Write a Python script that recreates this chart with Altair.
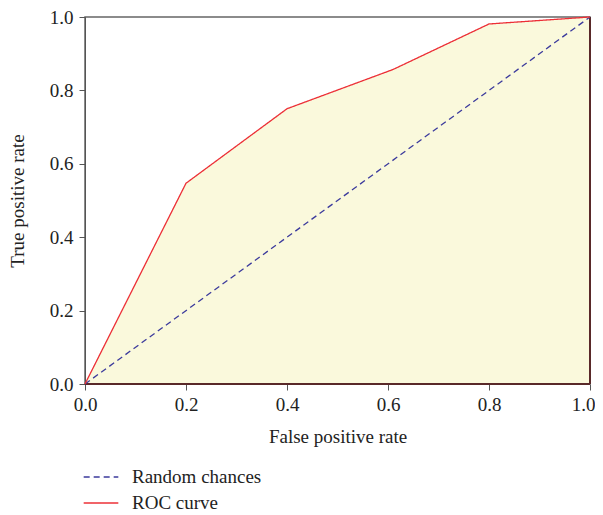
import altair as alt
import pandas as pd

roc_fpr = [0.0, 0.2, 0.4, 0.61, 0.8, 1.0]
roc_tpr = [0.0, 0.547, 0.75, 0.857, 0.981, 1.0]
rand_fpr = [0.0, 1.0]
rand_tpr = [0.0, 1.0]
series = ["Random chances", "ROC curve"]
colors = ["#3b3a9c", "#ec2f36"]

roc = pd.DataFrame({"fpr": roc_fpr, "tpr": roc_tpr, "series": series[1]})
rnd = pd.DataFrame({"fpr": rand_fpr, "tpr": rand_tpr, "series": series[0]})

FONT = "Liberation Serif"
FS = 19

xs = alt.Scale(domain=[0, 1], nice=False)
ys = alt.Scale(domain=[0, 1], nice=False)

xax = alt.Axis(title="False positive rate", values=[0, 0.2, 0.4, 0.6, 0.8, 1.0], format=".1f",
               grid=False, domain=False, tickColor="#555", tickSize=6, labelPadding=5,
               labelFlush=False, titlePadding=13,
               labelOffset={"condition": {"test": "datum.value == 1", "value": -7}, "value": 0})
yax = alt.Axis(title="True positive rate", values=[0, 0.2, 0.4, 0.6, 0.8, 1.0], format=".1f",
               grid=False, domainColor="#555", tickColor="#555", tickSize=6, labelPadding=6,
               labelFlush=False, titlePadding=22)

area = alt.Chart(roc).mark_area(color="#faf9dc").encode(
    x=alt.X("fpr:Q", scale=xs, axis=xax),
    y=alt.Y("tpr:Q", scale=ys, axis=yax),
)

edge_bottom = alt.Chart(roc).mark_rule(color="#5a2a2a", strokeWidth=1.6).encode(
    y=alt.datum(0, scale=ys),
)
edge_right = alt.Chart(roc).mark_rule(color="#5a2a2a", strokeWidth=1.6).encode(
    x=alt.datum(1, scale=xs),
)


def leg(y):
    return alt.Legend(title=None, orient="none", legendX=-2, legendY=y,
                      symbolType="stroke", symbolSize=1200, symbolStrokeWidth=1.3,
                      labelFontSize=FS, labelFont=FONT, labelColor="#222",
                      labelOffset=13)


rand_line = alt.Chart(rnd).mark_line(strokeWidth=1.3).encode(
    x=alt.X("fpr:Q", scale=xs),
    y=alt.Y("tpr:Q", scale=ys),
    color=alt.Color("series:N", scale=alt.Scale(domain=[series[0]], range=[colors[0]]), legend=leg(442)),
    strokeDash=alt.StrokeDash("series:N", scale=alt.Scale(domain=[series[0]], range=[[6, 4]]), legend=leg(442)),
)

roc_line = alt.Chart(roc).mark_line(strokeWidth=1.3).encode(
    x=alt.X("fpr:Q", scale=xs),
    y=alt.Y("tpr:Q", scale=ys),
    color=alt.Color("series:N", scale=alt.Scale(domain=[series[1]], range=[colors[1]]), legend=leg(468)),
    strokeDash=alt.StrokeDash("series:N", scale=alt.Scale(domain=[series[1]], range=[[1, 0]]), legend=leg(468)),
)

chart = (area + edge_bottom + edge_right + rand_line + roc_line).resolve_scale(
    color="independent", strokeDash="independent"
).properties(
    width=505, height=367,
    autosize=alt.AutoSizeParams(type="none"),
    padding={"left": 77, "top": 9, "right": 5, "bottom": 130},
).configure_view(stroke="#666", strokeWidth=1.5).configure_axis(
    labelFont=FONT, titleFont=FONT, labelFontSize=FS, titleFontSize=FS,
    labelColor="#222", titleColor="#222", titleFontWeight="normal",
)

chart.save("out.html", embed_options={"renderer": "svg", "actions": False})
